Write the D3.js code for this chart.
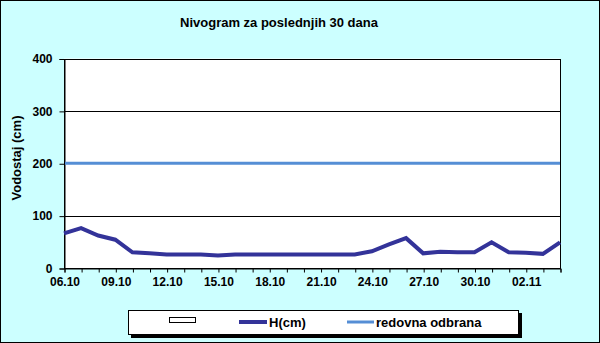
<!DOCTYPE html>
<html><head><meta charset="utf-8">
<script src="https://cdn.jsdelivr.net/npm/d3@7"></script>
<style>
html,body{margin:0;padding:0;background:#fff;}
svg{display:block;font-family:"Liberation Sans",Arial,sans-serif;}
</style></head>
<body>
<svg id="c" width="600" height="343"></svg>
<script>
const dates = ["06.10","07.10","08.10","09.10","10.10","11.10","12.10","13.10","14.10","15.10",
  "16.10","17.10","18.10","19.10","20.10","21.10","22.10","23.10","24.10","25.10",
  "26.10","27.10","28.10","29.10","30.10","31.10","01.11","02.11","03.11","04.11"];
const levels = [66,76,62,54,30,28,26,26,26,24,26,26,26,26,26,26,26,26,32,45,57,28,31,30,30,49,30,29,27,49];
const regularDefence = 200;
const yTicks = [0,100,200,300,400];
const title = "Nivogram za poslednjih 30 dana";
const yTitle = "Vodostaj (cm)";
const legendLabels = ["H(cm)","redovna odbrana"];

const svg = d3.select("#c");
const W = 600, H = 343;
svg.append("rect").attr("x",0.5).attr("y",0.5).attr("width",W-1).attr("height",H-1)
  .attr("fill","#ccffff").attr("stroke","#000").attr("stroke-width",1);

const L = 64, R = 560, T = 58.5, B = 268;
const x = d3.scalePoint().domain(dates).range([L,R]);
const y = d3.scaleLinear().domain([0,400]).range([B,T]);

svg.append("rect").attr("x",L).attr("y",T).attr("width",R-L).attr("height",B-T).attr("fill","#fff");

// gridlines
svg.append("g").selectAll("line").data(yTicks.filter(d=>d>0)).join("line")
  .attr("x1",L).attr("x2",R).attr("y1",d=>Math.round(y(d))+0.5).attr("y2",d=>Math.round(y(d))+0.5)
  .attr("stroke","#000").attr("stroke-width",1);

// plot border
svg.append("rect").attr("x",L+0.5).attr("y",Math.round(T)+0.5).attr("width",R-L).attr("height",B-Math.round(T))
  .attr("fill","none").attr("stroke","#000").attr("stroke-width",1);

// y axis
const ya = svg.append("g").attr("transform",`translate(${L+0.5},0.5)`)
  .call(d3.axisLeft(y).tickValues(yTicks).tickSize(5).tickPadding(7));
ya.select(".domain").attr("stroke","#000");
ya.selectAll("text").attr("font-size",12).attr("font-weight","bold").attr("fill","#000")
  .attr("font-family","'Liberation Sans',Arial,sans-serif");
ya.selectAll("line").attr("stroke","#000");

// x axis
const xa = svg.append("g").attr("transform",`translate(0.5,${B+0.5})`)
  .call(d3.axisBottom(x).tickSize(4).tickPadding(5).tickFormat((d,i)=> i%3===0 ? d : ""));
xa.select(".domain").attr("stroke","#000");
xa.selectAll("text").attr("font-size",12).attr("font-weight","bold").attr("fill","#000")
  .attr("font-family","'Liberation Sans',Arial,sans-serif");
xa.selectAll("line").attr("stroke","#000");

// regular defence line
svg.append("line").attr("x1",L+1).attr("x2",R).attr("y1",y(regularDefence)).attr("y2",y(regularDefence))
  .attr("stroke","#558ed5").attr("stroke-width",3);

// level line
svg.append("path").datum(levels)
  .attr("d",d3.line().x((d,i)=>x(dates[i])).y(d=>y(d)))
  .attr("fill","none").attr("stroke","#333399").attr("stroke-width",4).attr("stroke-linejoin","miter");

// title
svg.append("text").attr("x",279).attr("y",27).attr("text-anchor","middle")
  .attr("font-size",13).attr("font-weight","bold").text(title);

// y title
svg.append("text").attr("transform","translate(21,158) rotate(-90)").attr("text-anchor","middle")
  .attr("font-size",13).attr("font-weight","bold").text(yTitle);

// legend
const lg = svg.append("g");
lg.append("rect").attr("x",131).attr("y",313).attr("width",391).attr("height",25).attr("fill","#000");
lg.append("rect").attr("x",128.5).attr("y",310.5).attr("width",390).attr("height",24)
  .attr("fill","#fff").attr("stroke","#000").attr("stroke-width",1);
lg.append("rect").attr("x",169.5).attr("y",317.5).attr("width",26).attr("height",5)
  .attr("fill","#fff").attr("stroke","#000").attr("stroke-width",1);
lg.append("line").attr("x1",239).attr("x2",267).attr("y1",322).attr("y2",322)
  .attr("stroke","#333399").attr("stroke-width",4);
lg.append("text").attr("x",269).attr("y",327).attr("font-size",13).attr("font-weight","bold").text(legendLabels[0]);
lg.append("line").attr("x1",347).attr("x2",374).attr("y1",322).attr("y2",322)
  .attr("stroke","#558ed5").attr("stroke-width",3);
lg.append("text").attr("x",376).attr("y",327).attr("font-size",13).attr("font-weight","bold").text(legendLabels[1]);
</script>
</body></html>
